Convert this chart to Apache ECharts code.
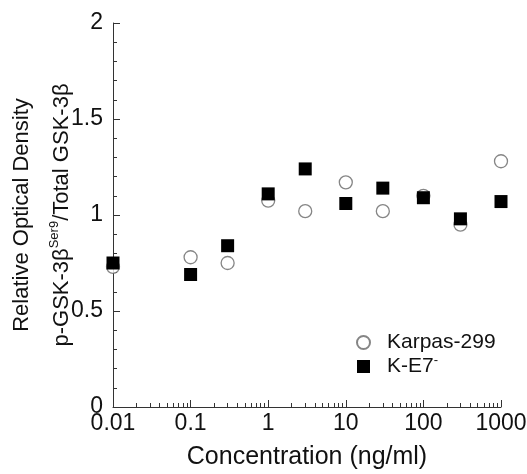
<!DOCTYPE html>
<html><head><meta charset="utf-8">
<script src="https://cdn.jsdelivr.net/npm/echarts@6/dist/echarts.min.js"></script>
<style>html,body{margin:0;padding:0;background:#fff}#c{width:527px;height:474px}</style>
</head><body><div id="c"></div>
<script>
const concentrations = [0.01, 0.1, 0.3, 1, 3, 10, 30, 100, 300, 1000];
const karpas299 = [0.73, 0.78, 0.75, 1.075, 1.02, 1.17, 1.02, 1.10, 0.95, 1.28];
const kE7 = [0.75, 0.69, 0.84, 1.11, 1.24, 1.06, 1.14, 1.09, 0.98, 1.07];
const xMajorTicks = [0.01, 0.1, 1, 10, 100, 1000];
const xMinorTicks = [0.02,0.03,0.04,0.05,0.06,0.07,0.08,0.09,
  0.2,0.3,0.4,0.5,0.6,0.7,0.8,0.9, 2,3,4,5,6,7,8,9,
  20,30,40,50,60,70,80,90, 200,300,400,500,600,700,800,900];
const yTicks = [0, 0.5, 1, 1.5, 2];
const seriesNames = ['Karpas-299', 'K-E7-'];

const FONT = 'Liberation Sans';
const chart = echarts.init(document.getElementById('c'));
const axisLineStyle = {color: '#333', width: 1};
chart.setOption({
  backgroundColor: '#fff',
  animation: false,
  textStyle: {fontFamily: FONT},
  grid: {left: 113, right: 26, top: 23, bottom: 67, containLabel: false, outerBoundsMode: 'none'},
  legend: {
    orient: 'vertical', left: 351, top: 327,
    itemWidth: 13, itemHeight: 13, itemGap: 1,
    data: seriesNames,
    formatter: function (n) {
      return n === 'K-E7-' ? '{t|K-E7}{s|-}' : '{t|' + n + '}';
    },
    textStyle: {
      fontFamily: FONT, color: '#111', padding: [0, 0, 0, 12],
      rich: {
        t: {fontSize: 21, fontFamily: FONT, color: '#111', lineHeight: 21},
        s: {fontSize: 13, fontFamily: FONT, color: '#111', padding: [0, 0, 12, 0]}
      }
    }
  },
  xAxis: [{
    type: 'log', logBase: 10, min: xMajorTicks[0], max: xMajorTicks[xMajorTicks.length - 1],
    position: 'bottom',
    name: 'Concentration (ng/ml)', nameLocation: 'middle', nameGap: 38, nameMoveOverlap: false,
    nameTextStyle: {fontSize: 25, fontFamily: FONT, color: '#111'},
    axisLine: {show: true, lineStyle: axisLineStyle},
    axisTick: {show: true, inside: true, length: 7, lineStyle: axisLineStyle, customValues: xMajorTicks},
    axisLabel: {show: true, fontSize: 23, color: '#111', margin: 5, fontFamily: FONT,
      customValues: xMajorTicks, formatter: v => String(+v.toPrecision(6))},
    splitLine: {show: false}
  }, {
    type: 'log', logBase: 10, min: xMajorTicks[0], max: xMajorTicks[xMajorTicks.length - 1],
    position: 'bottom',
    axisLine: {show: false},
    axisTick: {show: true, inside: true, length: 4, lineStyle: axisLineStyle, customValues: xMinorTicks},
    axisLabel: {show: false},
    splitLine: {show: false}
  }],
  yAxis: {
    type: 'value', min: yTicks[0], max: yTicks[yTicks.length - 1], interval: 0.5,
    name: '{a|Relative Optical Density}\n{b|p-GSK-3β}{s|Ser9}{b|/Total GSK-3β}',
    nameLocation: 'middle', nameRotate: 90, nameGap: 31, nameMoveOverlap: false,
    nameTextStyle: {
      fontFamily: FONT, color: '#111',
      rich: {
        a: {fontSize: 22, fontFamily: FONT, color: '#111', lineHeight: 40},
        b: {fontSize: 22, fontFamily: FONT, color: '#111', lineHeight: 40},
        s: {fontSize: 13, fontFamily: FONT, color: '#111', padding: [0, 0, 16, 0], lineHeight: 40}
      }
    },
    axisLine: {show: true, lineStyle: axisLineStyle},
    axisTick: {show: true, inside: true, length: 7, lineStyle: axisLineStyle},
    minorTick: {show: true, splitNumber: 5, length: 4, lineStyle: axisLineStyle},
    axisLabel: {fontSize: 23, color: '#111', margin: 10, fontFamily: FONT},
    splitLine: {show: false}
  },
  series: [{
    name: seriesNames[0], type: 'scatter', xAxisIndex: 0,
    symbol: 'circle', symbolSize: 13,
    itemStyle: {color: '#fff', borderColor: '#666', borderWidth: 1.3},
    data: concentrations.map((c, i) => [c, karpas299[i]]), z: 2
  }, {
    name: seriesNames[1], type: 'scatter', xAxisIndex: 0,
    symbol: 'rect', symbolSize: 13,
    itemStyle: {color: '#000', opacity: 1},
    data: concentrations.map((c, i) => [c, kE7[i]]), z: 3
  }]
});
</script></body></html>
